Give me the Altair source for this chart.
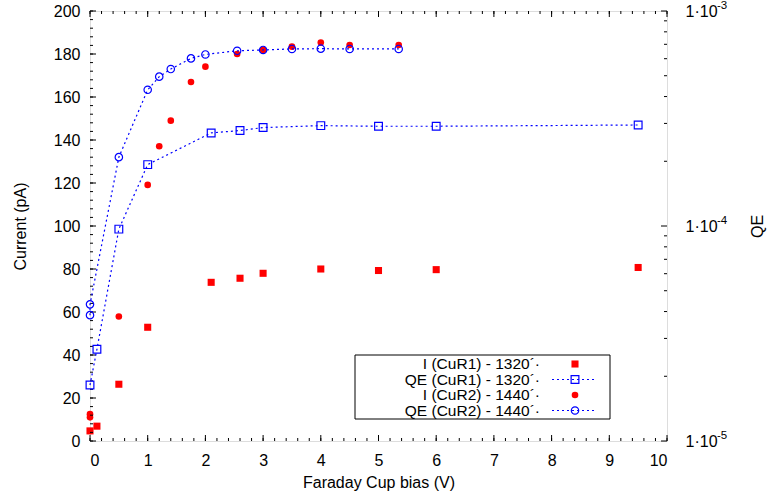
import altair as alt
import pandas as pd

# ---- measured series -------------------------------------------------------
# Photocurrent, sample CuR1 (pA)
bias_i1 = [0.0, 0.12, 0.5, 1.0, 2.1, 2.6, 3.0, 4.0, 5.0, 6.0, 9.5]
current_i1 = [4.7, 6.9, 26.4, 52.9, 73.8, 75.7, 78.0, 80.0, 79.3, 79.7, 80.7]

# Photocurrent, sample CuR2 (pA)
bias_i2 = [0.0, 0.0, 0.5, 1.0, 1.2, 1.4, 1.75, 2.0, 2.55, 3.0, 3.5, 4.0, 4.5, 5.35]
current_i2 = [11.0, 12.5, 57.9, 119.1, 137.1, 149.0, 167.0, 174.1, 180.0, 181.9,
              183.4, 185.3, 184.2, 184.2]

# Quantum efficiency, sample CuR1
bias_qe1 = [0.0, 0.12, 0.5, 1.0, 2.1, 2.6, 3.0, 4.0, 5.0, 6.0, 9.5]
qe1 = [1.82e-5, 2.67e-5, 9.67e-5, 1.93e-4, 2.71e-4, 2.78e-4, 2.87e-4, 2.93e-4,
       2.91e-4, 2.91e-4, 2.95e-4]

# Quantum efficiency, sample CuR2
bias_qe2 = [0.0, 0.0, 0.5, 1.0, 1.2, 1.4, 1.75, 2.0, 2.55, 3.0, 3.5, 4.0, 4.5, 5.35]
qe2 = [3.85e-5, 4.32e-5, 2.09e-4, 4.30e-4, 4.95e-4, 5.37e-4, 6.02e-4, 6.28e-4,
       6.53e-4, 6.59e-4, 6.66e-4, 6.68e-4, 6.66e-4, 6.66e-4]

legend_labels = ["I (CuR1) - 1320´·", "QE (CuR1) - 1320´·",
                 "I (CuR2) - 1440´·", "QE (CuR2) - 1440´·"]

# ---- axis ticks --------------------------------------------------------------
x_major = [0, 1, 2, 3, 4, 5, 6, 7, 8, 9, 10]
x_minor = [round(0.2 * i, 1) for i in range(51)]
y_major = [0, 20, 40, 60, 80, 100, 120, 140, 160, 180, 200]
y_minor = list(range(0, 201, 4))
qe_major = [1e-5, 1e-4, 1e-3]
qe_exponents = ["-5", "-4", "-3"]
qe_minor = [m * d for d in (1e-5, 1e-4) for m in range(2, 10)]

# ---- layout ------------------------------------------------------------------
W, H = 577, 430
FONT = "Liberation Sans"
RED = "#ff0000"
BLUE = "#0000ff"
MAJ, MIN = 6, 3

xs = alt.Scale(domain=[0, 10], nice=False, zero=False)
ys = alt.Scale(domain=[0, 200], nice=False)
qs = alt.Scale(type="log", domain=[1e-5, 1e-3], nice=False)

df_i1 = pd.DataFrame({"bias": bias_i1, "val": current_i1})
df_i2 = pd.DataFrame({"bias": bias_i2, "val": current_i2})
df_q1 = pd.DataFrame({"bias": bias_qe1, "val": qe1, "k": range(len(qe1))})
df_q2 = pd.DataFrame({"bias": bias_qe2, "val": qe2, "k": range(len(qe2))})

# One axis definition per scale, reused by every layer on that scale so the
# layers merge into a single axis.
x_axis = alt.Axis(values=x_major, ticks=False, tickSize=0, domain=False, grid=False,
                  labelPadding=11, labelFontSize=16, labelColor="#000", format="d",
                  title="Faraday Cup bias (V)", titleFontSize=16, titleFontWeight="normal",
                  titleColor="#000", titleX=W / 2, titleY=41, titleAlign="center",
                  titleBaseline="middle")
y_axis = alt.Axis(values=y_major, ticks=False, tickSize=0, domain=False, grid=False,
                  labelPadding=10, labelFontSize=16, labelColor="#000",
                  title="Current (pA)", titleFontSize=16, titleFontWeight="normal",
                  titleColor="#000", titleAngle=270, titleX=-70, titleY=H / 2,
                  titleAlign="center", titleBaseline="middle")
q_axis = alt.Axis(orient="right", values=qe_major, ticks=False, tickSize=0, domain=False,
                  grid=False, labelPadding=18, labelFontSize=16, labelColor="#000",
                  labelAlign="left", labelBaseline="middle", labelExpr="'1·10'",
                  title="QE", titleFontSize=16, titleFontWeight="normal", titleColor="#000",
                  titleAngle=270, titleX=90, titleY=H / 2, titleAlign="center",
                  titleBaseline="middle")


def X(field):
    return alt.X(field, scale=xs, axis=x_axis)


def Y(field):
    return alt.Y(field, scale=ys, axis=y_axis)


def Q(field):
    return alt.Y(field, scale=qs, axis=q_axis)


def xticks(vals, length):
    d = pd.DataFrame({"v": vals})
    bottom = alt.Chart(d).mark_rule(color="#000", strokeWidth=1).encode(
        x=X("v:Q"), y=alt.value(H), y2=alt.value(H - length))
    top = alt.Chart(d).mark_rule(color="#000", strokeWidth=1).encode(
        x=X("v:Q"), y=alt.value(0), y2=alt.value(length))
    return [bottom, top]


def yticks(vals, length):
    d = pd.DataFrame({"v": vals})
    return alt.Chart(d).mark_rule(color="#000", strokeWidth=1).encode(
        y=Y("v:Q"), x=alt.value(0), x2=alt.value(length))


def qticks(vals, length):
    d = pd.DataFrame({"v": vals})
    return alt.Chart(d).mark_rule(color="#000", strokeWidth=1).encode(
        y=Q("v:Q"), x=alt.value(W), x2=alt.value(W - length))


# ---- current (left axis) -----------------------------------------------------
i1_pts = alt.Chart(df_i1).mark_point(shape="square", filled=True, size=50, color=RED,
                                     opacity=1).encode(x=X("bias:Q"), y=Y("val:Q"))
i2_pts = alt.Chart(df_i2).mark_point(shape="circle", filled=True, size=44, color=RED,
                                     opacity=1).encode(x=X("bias:Q"), y=Y("val:Q"))

# ---- legend box ----------------------------------------------------------------
one = pd.DataFrame({"a": [0]})
LX0, LX1, LY0, LY1 = 265, 520, 344, 408
row_y = [353, 368.5, 384, 399.5]
TEXT_X, SYM_X, LINE_X0, LINE_X1 = 450, 485, 462, 507

legend_layers = [
    alt.Chart(one).mark_rect(fill="white", stroke="#000", strokeWidth=1).encode(
        x=alt.value(LX0), x2=alt.value(LX1), y=alt.value(LY0), y2=alt.value(LY1))
]
for lbl, yy in zip(legend_labels, row_y):
    legend_layers.append(
        alt.Chart(one).mark_text(align="right", baseline="middle", fontSize=15.5,
                                 font=FONT, color="#000", text=lbl).encode(
            x=alt.value(TEXT_X), y=alt.value(yy)))
for i in (1, 3):
    legend_layers.append(
        alt.Chart(one).mark_rule(color=BLUE, strokeWidth=1.2, strokeDash=[2, 3]).encode(
            x=alt.value(LINE_X0), x2=alt.value(LINE_X1), y=alt.value(row_y[i])))
legend_layers += [
    alt.Chart(one).mark_point(shape="square", filled=True, size=50, color=RED, opacity=1)
    .encode(x=alt.value(SYM_X), y=alt.value(row_y[0])),
    alt.Chart(one).mark_point(shape="square", filled=False, size=60, color=BLUE,
                              strokeWidth=1.2, opacity=1)
    .encode(x=alt.value(SYM_X), y=alt.value(row_y[1])),
    alt.Chart(one).mark_point(shape="circle", filled=True, size=44, color=RED, opacity=1)
    .encode(x=alt.value(SYM_X), y=alt.value(row_y[2])),
    alt.Chart(one).mark_point(shape="circle", filled=False, size=55, color=BLUE,
                              strokeWidth=1.2, opacity=1)
    .encode(x=alt.value(SYM_X), y=alt.value(row_y[3])),
]

left_group = alt.layer(
    i1_pts, i2_pts,
    *xticks(x_minor, MIN), *xticks(x_major, MAJ),
    yticks(y_minor, MIN), yticks(y_major, MAJ),
    *legend_layers)


# ---- quantum efficiency (right log axis) ----------------------------------------
def qe_series(df, shape, size):
    line = alt.Chart(df).mark_line(color=BLUE, strokeWidth=1.2, strokeDash=[2, 3]).encode(
        x=X("bias:Q"), y=Q("val:Q"), order="k:Q")
    pts = alt.Chart(df).mark_point(shape=shape, filled=False, size=size, color=BLUE,
                                   strokeWidth=1.2, opacity=1).encode(
        x=X("bias:Q"), y=Q("val:Q"))
    return [line, pts]


# exponent of the "1·10^n" labels on the QE axis, raised like a superscript
q_exp = alt.Chart(pd.DataFrame({"v": qe_major, "e": qe_exponents})).mark_text(
    align="left", baseline="middle", fontSize=11.5, font=FONT, color="#000", dy=-5).encode(
    x=alt.value(W + 18 + 32), y=Q("v:Q"), text="e:N")

right_group = alt.layer(
    *qe_series(df_q1, "square", 60), *qe_series(df_q2, "circle", 55),
    qticks(qe_minor, MIN), qticks(qe_major, MAJ),
    q_exp)

chart = (
    alt.layer(left_group, right_group)
    .resolve_scale(y="independent")
    .properties(width=W, height=H,
                autosize=alt.AutoSizeParams(type="none"),
                padding={"left": 90, "top": 11, "right": 767 - 90 - W,
                         "bottom": 496 - 11 - H},
                background="white")
    .configure_view(stroke="#000", strokeWidth=1.2)
    .configure(font=FONT)
)

chart.save("out.html", embed_options={"renderer": "svg", "actions": False})
